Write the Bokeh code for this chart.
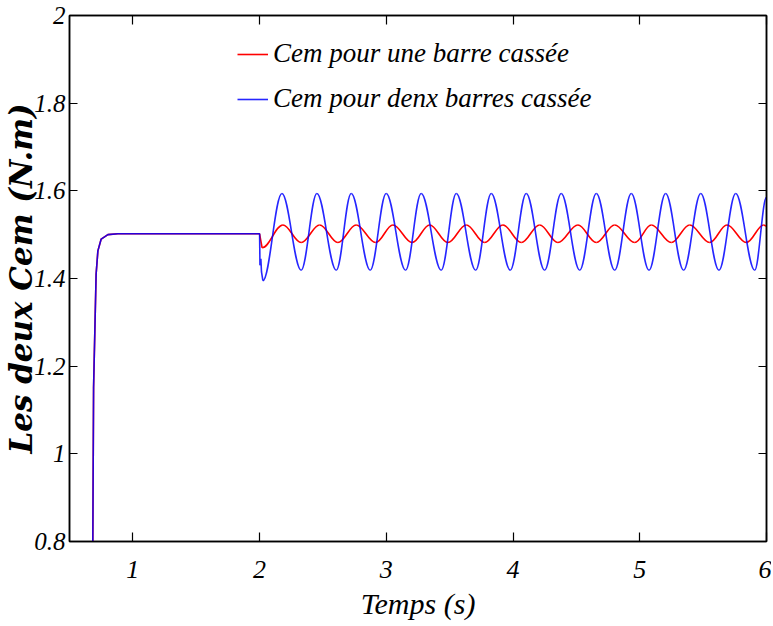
from bokeh.plotting import figure
from bokeh.models import LinearAxis, FixedTicker, Range1d, Legend, LegendItem
from bokeh.embed import file_html
from bokeh.resources import INLINE

# ---------------- data ----------------
# common start-up transient (both series identical before the fault at t = 2 s)
rise_t = [0.670, 0.684, 0.690, 0.710, 0.724, 0.750, 0.803, 0.882, 2.000]
rise_v = [0.600, 0.800, 1.150, 1.410, 1.463, 1.490, 1.500, 1.502, 1.502]

# one broken bar (red): dip after the fault, then oscillation extrema
red_dip_t = [2.020]
red_dip_v = [1.470]
red_ext_t = [2.184, 2.328, 2.474, 2.618, 2.762, 2.916, 3.052, 3.204, 3.342, 3.486,
             3.631, 3.776, 3.920, 4.065, 4.210, 4.354, 4.512, 4.657, 4.802, 4.960,
             5.091, 5.249, 5.394, 5.552, 5.688, 5.841, 5.978, 6.000]
red_ext_v = [1.522, 1.482, 1.522, 1.482, 1.522, 1.482, 1.522, 1.482, 1.522, 1.482,
             1.522, 1.482, 1.522, 1.482, 1.522, 1.482, 1.522, 1.482, 1.522, 1.482,
             1.522, 1.482, 1.522, 1.482, 1.522, 1.482, 1.522, 1.519]

# two broken bars (blue): dip after the fault, then oscillation extrema
blue_dip_t = [2.003, 2.010, 2.015, 2.026]
blue_dip_v = [1.430, 1.445, 1.415, 1.395]
blue_ext_t = [2.176, 2.328, 2.452, 2.605, 2.723, 2.873, 2.999, 3.152, 3.275, 3.433,
              3.552, 3.705, 3.828, 3.978, 4.104, 4.249, 4.380, 4.526, 4.657, 4.802,
              4.933, 5.073, 5.204, 5.346, 5.481, 5.625, 5.757, 5.907, 6.000]
blue_ext_v = [1.594, 1.419, 1.594, 1.419, 1.594, 1.419, 1.594, 1.419, 1.594, 1.419,
              1.594, 1.419, 1.594, 1.419, 1.594, 1.419, 1.594, 1.419, 1.594, 1.419,
              1.594, 1.419, 1.594, 1.419, 1.594, 1.419, 1.594, 1.419, 1.585]

x_ticks = [1, 2, 3, 4, 5, 6]
y_ticks = [0.8, 1.0, 1.2, 1.4, 1.6, 1.8, 2.0]
y_tick_labels = ["0.8", "1", "1.2", "1.4", "1.6", "1.8", "2"]

legend_labels = ["Cem pour une barre cassée", "Cem pour denx barres cassée"]
x_title = "Temps (s)"
y_title = "Les deux Cem (N.m)"

RED = "#ff0000"
BLUE = "#0000ff"
FONT = "Liberation Serif"

# ---------------- figure ----------------
p = figure(width=771, height=624, output_backend="svg", toolbar_location=None,
           x_range=Range1d(0.5, 6.0), y_range=Range1d(0.8, 2.0),
           min_border_left=67, min_border_top=15, min_border_right=5,
           min_border_bottom=83, background_fill_color="white",
           border_fill_color="white")
p.xgrid.visible = False
p.ygrid.visible = False
p.outline_line_color = "black"
p.outline_line_width = 1.5


def series_glyphs(dip_t, dip_v, ext_t, ext_v, color, alpha):
    r_line = p.line(rise_t + dip_t, rise_v + dip_v, line_color=color,
                    line_width=1.6, line_alpha=alpha)
    xs = [dip_t[-1]] + ext_t
    ys = [dip_v[-1]] + ext_v
    k = 0.3634
    x0, y0, x1, y1, cx0, cy0, cx1, cy1 = [], [], [], [], [], [], [], []
    for i in range(len(xs) - 1):
        a, b = xs[i], xs[i + 1]
        x0.append(a); y0.append(ys[i]); x1.append(b); y1.append(ys[i + 1])
        cx0.append(a + (b - a) * k); cy0.append(ys[i])
        cx1.append(b - (b - a) * k); cy1.append(ys[i + 1])
    p.bezier(x0=x0, y0=y0, x1=x1, y1=y1, cx0=cx0, cy0=cy0, cx1=cx1, cy1=cy1,
             line_color=color, line_width=1.6, line_alpha=alpha)
    return r_line


r_red = series_glyphs(red_dip_t, red_dip_v, red_ext_t, red_ext_v, RED, 1.0)
r_blue = series_glyphs(blue_dip_t, blue_dip_v, blue_ext_t, blue_ext_v, BLUE, 0.85)

# ---------------- axes ----------------
def style_axis(ax, ticks, tick_len):
    ax.ticker = FixedTicker(ticks=ticks)
    ax.major_tick_in = tick_len
    ax.major_tick_out = 0
    ax.minor_tick_line_color = None
    ax.axis_line_color = "black"
    ax.axis_line_width = 1.5
    ax.major_tick_line_color = "black"
    ax.major_tick_line_width = 1.2
    ax.major_label_text_font = FONT
    ax.major_label_text_font_style = "italic"
    ax.major_label_text_color = "black"


xa = p.xaxis[0]
style_axis(xa, x_ticks, 9)
xa.major_label_text_font_size = "26px"
xa.major_label_standoff = 19
xa.axis_label = x_title
xa.axis_label_text_font = FONT
xa.axis_label_text_font_style = "italic"
xa.axis_label_text_font_size = "30px"
xa.axis_label_text_color = "black"
xa.axis_label_standoff = 6

ya = p.yaxis[0]
style_axis(ya, y_ticks, 8)
ya.major_label_overrides = {t: s for t, s in zip(y_ticks, y_tick_labels)}
ya.major_label_text_font_size = "25px"
ya.major_label_standoff = 4
ya.axis_label = y_title
ya.axis_label_text_font = "DejaVu Serif"
ya.axis_label_text_font_style = "bold italic"
ya.axis_label_text_font_size = "31px"
ya.axis_label_text_color = "black"
ya.axis_label_standoff = -8

top = LinearAxis()
style_axis(top, x_ticks, 9)
top.major_label_text_font_size = "1px"
top.major_label_text_color = None
top.major_label_standoff = 0
p.add_layout(top, "above")

right = LinearAxis()
style_axis(right, y_ticks, 8)
right.major_label_text_font_size = "1px"
right.major_label_text_color = None
right.major_label_standoff = 0
p.add_layout(right, "right")

# ---------------- legend ----------------
legend = Legend(items=[LegendItem(label=legend_labels[0], renderers=[r_red]),
                       LegendItem(label=legend_labels[1], renderers=[r_blue])],
                location=(168, 427), border_line_color=None,
                background_fill_alpha=0, padding=0, margin=0, spacing=14,
                glyph_width=31, glyph_height=30, label_height=30,
                label_standoff=5, label_text_font=FONT,
                label_text_font_style="italic", label_text_font_size="27px",
                label_text_color="black")
p.add_layout(legend, "center")

open("out.html", "w").write(file_html(p, INLINE))
